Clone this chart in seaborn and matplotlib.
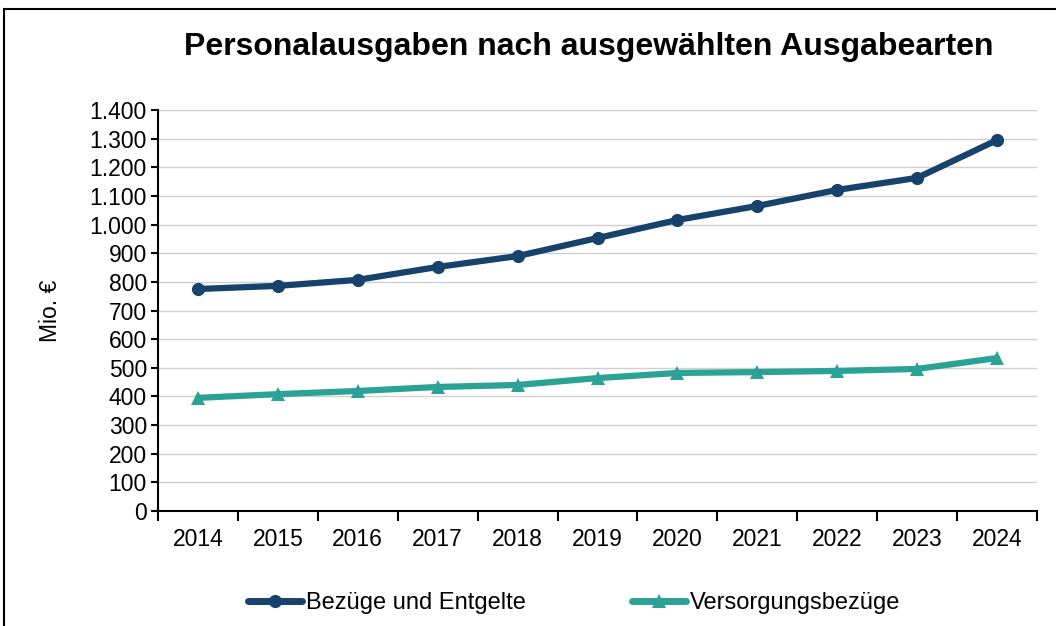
import matplotlib
matplotlib.use("Agg")
import matplotlib.pyplot as plt
import matplotlib.patches as mpatches
from matplotlib.ticker import FuncFormatter, FixedLocator
import seaborn as sns
import pandas as pd

years = ["2014", "2015", "2016", "2017", "2018", "2019", "2020", "2021", "2022", "2023", "2024"]
bezuege = [775, 786, 807, 852, 890, 953, 1016, 1065, 1121, 1163, 1295]
versorgung = [395, 408, 419, 433, 440, 464, 482, 485, 489, 496, 534]
series_names = ["Bezüge und Entgelte", "Versorgungsbezüge"]
colors = ["#17426B", "#2AA396"]

df = pd.DataFrame({
    "pos": list(range(len(years))) * 2,
    "Jahr": years * 2,
    "Wert": bezuege + versorgung,
    "Serie": [series_names[0]] * len(years) + [series_names[1]] * len(years),
})

sns.set_theme(style="white")
plt.rcParams["font.family"] = ["Liberation Sans", "DejaVu Sans"]
plt.rcParams["text.color"] = "#000000"

fig = plt.figure(figsize=(10.56, 6.26), dpi=100)
ax = fig.add_axes([158/1056, 1 - 511/626, (1037-158)/1056, (511-110)/626])

sns.lineplot(data=df, x="pos", y="Wert", hue="Serie", style="Serie",
             palette=dict(zip(series_names, colors)),
             markers={series_names[0]: "o", series_names[1]: "^"},
             dashes=False, linewidth=4.5, markersize=9.5, markeredgewidth=0,
             ax=ax, legend=False)

ax.set_xlim(-0.5, len(years) - 0.5)
ax.set_ylim(0, 1400)
ax.set_yticks(range(0, 1401, 100))
ax.yaxis.set_major_formatter(FuncFormatter(lambda v, p: f"{int(v):,}".replace(",", ".")))
ax.set_xticks(range(len(years)))
ax.set_xticklabels(years)
ax.xaxis.set_minor_locator(FixedLocator([i - 0.5 for i in range(len(years) + 1)]))
ax.tick_params(axis="x", which="major", length=0, pad=12, labelsize=16.5, colors="#000000")
ax.tick_params(axis="x", which="minor", length=7, width=1.5, color="#000000", bottom=True)
ax.tick_params(axis="y", which="major", length=5, width=1.5, color="#000000", left=True,
               labelsize=16.5, pad=3, labelcolor="#000000")
ax.grid(axis="y", color="#D0D0D0", linewidth=1)
ax.set_axisbelow(True)
for s in ["top", "right"]:
    ax.spines[s].set_visible(False)
for s in ["left", "bottom"]:
    ax.spines[s].set_color("#000000")
    ax.spines[s].set_linewidth(1.5)
ax.set_xlabel("")
ax.set_ylabel("Mio. €", fontsize=16.5, color="#000000", labelpad=20)

fig.text(589/1056, 1 - 47/626, "Personalausgaben nach ausgewählten Ausgabearten",
         ha="center", va="center", fontsize=23, fontweight="bold", color="#000000")

handles = [plt.Line2D([], [], color=colors[0], marker="o", linewidth=5, markersize=9.5, markeredgewidth=0),
           plt.Line2D([], [], color=colors[1], marker="^", linewidth=5, markersize=9.5, markeredgewidth=0)]
fig.legend(handles, series_names, loc="center", bbox_to_anchor=(574/1056, 1 - 603/626),
           ncol=2, frameon=False, fontsize=17, handlelength=2.3, handletextpad=0.15,
           columnspacing=4.5, labelcolor="#000000")

fig.patches.append(mpatches.Rectangle((4/1056, -0.1), 1.2, 1 - 9/626 + 0.1,
                                      transform=fig.transFigure, fill=False,
                                      edgecolor="#000000", linewidth=1.5))

fig.savefig("out.png", dpi=100)
